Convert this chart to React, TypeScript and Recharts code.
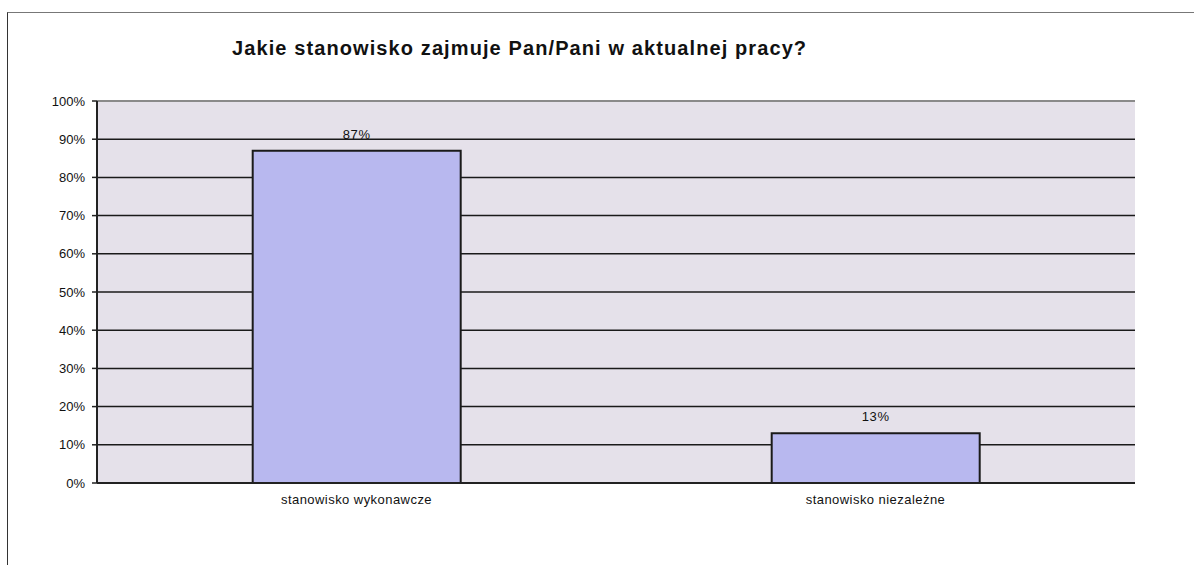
import { BarChart, Bar, XAxis, YAxis, CartesianGrid, LabelList, ReferenceLine } from 'recharts'

const categories = ['stanowisko wykonawcze', 'stanowisko niezależne']
const shares = [87, 13]
const yTicks = [0, 10, 20, 30, 40, 50, 60, 70, 80, 90, 100]
const edgeTicks = [0, 1, 2]

const data = categories.map((name, i) => ({ name, value: shares[i] }))

const font = '"Liberation Sans", Arial, sans-serif'

export default function App() {
   return (
      <div style={{ position: 'absolute', left: 0, top: 0, width: 1194, height: 565, background: '#fff', fontFamily: font }}>
         <div style={{ position: 'absolute', left: 7, top: 12, right: 0, bottom: 0, borderTop: '1.5px solid #777', borderLeft: '1.5px solid #333' }} />
         <div style={{ position: 'absolute', left: 232, top: 37, fontSize: 20, letterSpacing: 1.1, fontWeight: 'bold', color: '#111', whiteSpace: 'nowrap' }}>
            Jakie stanowisko zajmuje Pan/Pani w aktualnej pracy?
         </div>
         <div style={{ position: 'absolute', left: 0, top: 0 }}>
            <BarChart
               width={1194}
               height={565}
               data={data}
               margin={{ top: 101, right: 59, bottom: 52, left: 37 }}
               barCategoryGap='30%'
            >
               <CartesianGrid vertical={false} stroke='#1a1a1a' strokeWidth={1.5} fill='#e5e1ea' fillOpacity={1} />
               <XAxis
                  xAxisId='edge'
                  type='number'
                  domain={[0, 2]}
                  ticks={edgeTicks}
                  height={0}
                  axisLine={false}
                  tickLine={{ stroke: '#222', strokeWidth: 1.5 }}
                  tickSize={5}
                  tickFormatter={() => ''}
               />
               <XAxis
                  xAxisId='cat'
                  dataKey='name'
                  height={30}
                  axisLine={{ stroke: '#222', strokeWidth: 2 }}
                  tickLine={false}
                  tickSize={5}
                  tickMargin={7}
                  tick={{ fontSize: 13, letterSpacing: 0.45, fill: '#111', fontFamily: font }}
               />
               <YAxis
                  width={60}
                  domain={[0, 100]}
                  ticks={yTicks}
                  tickFormatter={(v: number) => `${v}%`}
                  axisLine={{ stroke: '#222', strokeWidth: 2 }}
                  tickLine={{ stroke: '#222', strokeWidth: 1.5 }}
                  tickSize={5}
                  tickMargin={7}
                  tick={{ fontSize: 13, fill: '#111', fontFamily: font }}
                  interval={0}
               />
               <ReferenceLine y={100} stroke='#8a8a8a' strokeWidth={2} />
               <ReferenceLine x={2} xAxisId='edge' stroke='#8a8a8a' strokeWidth={2} />
               <Bar dataKey='value' xAxisId='cat' fill='#b8b8ef' stroke='#1a1a1a' strokeWidth={2} isAnimationActive={false}>
                  <LabelList
                     dataKey='value'
                     position='top'
                     offset={12}
                     formatter={(v: number) => `${v}%`}
                     style={{ fontSize: 13, letterSpacing: 0.6, fill: '#111', fontFamily: font }}
                  />
               </Bar>
            </BarChart>
         </div>
      </div>
   )
}
